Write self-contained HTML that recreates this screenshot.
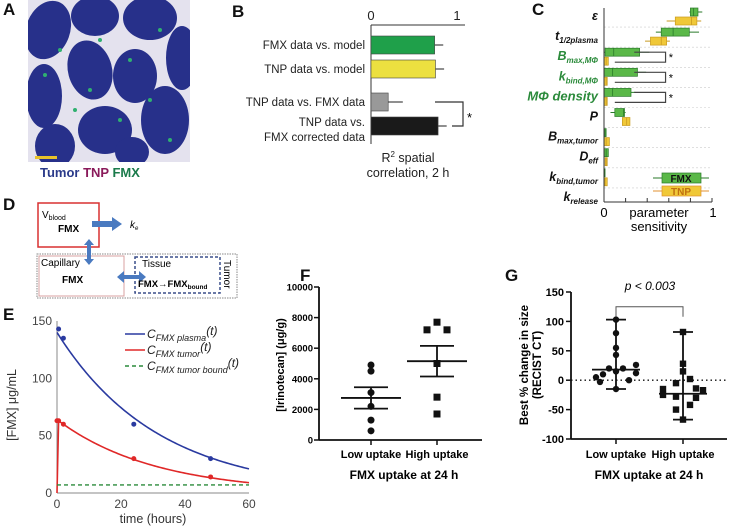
<!DOCTYPE html>
<html><head><meta charset="utf-8">
<style>
html,body{margin:0;padding:0;background:#fff;}
svg{display:block;font-family:"Liberation Sans",Arial,sans-serif;}
</style></head>
<body>
<svg id="fig" width="731" height="530" viewBox="0 0 731 530">
<g font-weight="bold" font-size="17" fill="#111">
<text x="3" y="15">A</text>
<text x="232" y="17">B</text>
<text x="532" y="15">C</text>
<text x="3" y="210">D</text>
<text x="3" y="320">E</text>
<text x="300" y="281">F</text>
<text x="505" y="281">G</text>
</g>

<g>
<clipPath id="clipA"><rect x="28" y="0" width="162" height="162"/></clipPath>
<g clip-path="url(#clipA)">
<rect x="28" y="0" width="162" height="162" fill="#e4e2ee"/>
<g fill="#27308a">
<ellipse cx="48" cy="30" rx="22" ry="30" transform="rotate(20 48 30)"/>
<ellipse cx="95" cy="16" rx="24" ry="20"/>
<ellipse cx="150" cy="18" rx="27" ry="22"/>
<ellipse cx="182" cy="58" rx="16" ry="32"/>
<ellipse cx="90" cy="70" rx="22" ry="30" transform="rotate(-15 90 70)"/>
<ellipse cx="135" cy="76" rx="22" ry="27"/>
<ellipse cx="44" cy="96" rx="18" ry="32"/>
<ellipse cx="165" cy="120" rx="24" ry="34"/>
<ellipse cx="105" cy="130" rx="27" ry="24"/>
<ellipse cx="55" cy="146" rx="20" ry="22"/>
<ellipse cx="132" cy="152" rx="17" ry="15"/>
</g>
<g fill="#2fb070">
<circle cx="60" cy="50" r="2"/><circle cx="100" cy="40" r="2"/><circle cx="130" cy="60" r="2"/><circle cx="150" cy="100" r="2"/><circle cx="75" cy="110" r="2"/><circle cx="120" cy="120" r="2"/><circle cx="170" cy="140" r="2"/><circle cx="90" cy="90" r="2"/><circle cx="45" cy="75" r="2"/><circle cx="160" cy="30" r="2"/>
</g>
<rect x="35" y="156" width="22" height="3" fill="#e8c22a"/>
</g>
<text x="40" y="177" font-size="13" font-weight="bold"><tspan fill="#2a3a8a">Tumor </tspan><tspan fill="#8a1a5a">TNP </tspan><tspan fill="#1a7a4a">FMX</tspan></text>
</g>

<g font-size="10">
<rect x="37" y="254" width="200" height="44" fill="none" stroke="#888" stroke-dasharray="1.5,1"/>
<rect x="39" y="256" width="85" height="40" fill="none" stroke="#d8a0a0"/>
<rect x="135" y="257" width="85" height="36" fill="none" stroke="#3a4e8a" stroke-width="1.5" stroke-dasharray="3,2"/>
<rect x="38" y="203" width="61" height="44" fill="#fff" stroke="#d83030" stroke-width="1.5"/>
<text x="42" y="218">V<tspan font-size="7" dy="2">blood</tspan></text>
<text x="58" y="232" font-weight="bold">FMX</text>
<polygon points="92,221 112,221 112,217 122,224 112,231 112,227 92,227" fill="#4a7ac0"/>
<text x="130" y="228" font-style="italic">k<tspan font-size="6" dy="2">e</tspan></text>
<polygon points="89,239 94,245 91,245 91,259 94,259 89,265 84,259 87,259 87,245 84,245" fill="#4a7ac0"/>
<text x="41" y="266">Capillary</text>
<text x="62" y="283" font-weight="bold">FMX</text>
<polygon points="117,277 124,271 124,275 139,275 139,271 146,277 139,283 139,279 124,279 124,283" fill="#4a7ac0"/>
<text x="142" y="267">Tissue</text>
<text x="138" y="287" font-weight="bold" font-size="9.5">FMX→FMX<tspan font-size="6.5" dy="2">bound</tspan></text>
<text x="0" y="0" transform="translate(224,260) rotate(90)" font-size="10">Tumor</text>
</g>

<g id="panelB"></g>
<g id="panelC"></g>
<g id="panelE"></g>
<g id="panelF"></g>
<g id="panelG"></g>
</svg>
<script>
const NS='http://www.w3.org/2000/svg';
function mk(parent,tag,attrs,text){const e=document.createElementNS(NS,tag);for(const k in attrs)e.setAttribute(k,attrs[k]);if(text!==undefined)e.textContent=text;parent.appendChild(e);return e;}

// ---------- Panel B data ----------
const bCategories=['FMX data vs. model','TNP data vs. model','TNP data vs. FMX data','TNP data vs. FMX corrected data'];
const bValues=[0.74,0.75,0.20,0.78];
const bErrors=[0.10,0.10,0.17,0.10];
const bColors=['#1fa04a','#ece040','#999999','#1a1a1a'];
const bTicks=[0,1];

// ---------- Panel C data ----------
const cParams=['ε','t1/2plasma','Bmax,MΦ','kbind,MΦ','MΦ density','P','Bmax,tumor','Deff','kbind,tumor','krelease'];
const cFmxQ1=[0.80,0.53,0.01,0.00,0.00,0.10,0.00,0.00,0.00,0];
const cFmxMed=[0.83,0.64,0.09,0.08,0.08,0.18,0.01,0.02,0.005,0];
const cFmxQ3=[0.87,0.79,0.33,0.31,0.25,0.19,0.02,0.04,0.01,0];
const cFmxLo=[0.79,0.48,0.00,0.00,0.00,0.06,0.00,0.00,0.00,0];
const cFmxHi=[0.91,0.88,0.42,0.39,0.29,0.20,0.02,0.04,0.01,0];
const cTnpQ1=[0.66,0.43,0.00,0.00,0.00,0.17,0.00,0.01,0.00,0];
const cTnpMed=[0.81,0.53,0.02,0.02,0.02,0.21,0.02,0.02,0.01,0];
const cTnpQ3=[0.86,0.58,0.04,0.03,0.03,0.24,0.05,0.03,0.03,0];
const cTnpLo=[0.58,0.38,0.00,0.00,0.00,0.17,0.00,0.01,0.00,0];
const cTnpHi=[0.90,0.61,0.04,0.03,0.03,0.24,0.05,0.03,0.03,0];

// ---------- Panel E data ----------
const eTimes=[0.5,2,24,48];
const ePlasma=[143,135,60,30];
const eTumorTimes=[0,0.5,2,24,48];
const eTumor=[63,63,60,30,14];
const eBound=7;
const ePlasmaModel=[140,0.0316];
const eTumorModel=[64,0.0327];
const eXTicks=[0,20,40,60];
const eYTicks=[0,50,100,150];

// ---------- Panel F data ----------
const fCategories=['Low uptake','High uptake'];
const fLow=[4900,4500,3100,2200,1300,600];
const fHigh=[7700,7200,7200,5000,2800,1700];
const fMean=[2750,5150];
const fSem=[700,1000];
const fYTicks=[0,2000,4000,6000,8000,10000];

// ---------- Panel G data ----------
const gCategories=['Low uptake','High uptake'];
const gLow=[103,80,55,43,26,20,20,15,12,10,5,-3,-15,0];
const gHigh=[82,28,15,2,-5,-15,-17,-25,-28,-30,-42,-50,-67,-14];
const gMedian=[18,-23];
const gMin=[-15,-67];
const gMax=[103,82];
const gYTicks=[-100,-50,0,50,100,150];

// ===== Panel B =====
(function(){
const g=document.getElementById('panelB');
const x=v=>371+v*86;
const rowY=[36,60,93,117];const h=18;
let ax=mk(g,'line',{x1:371,y1:25,x2:465,y2:25,stroke:'#333','stroke-width':1});

let ay=mk(g,'line',{x1:371,y1:25,x2:371,y2:144,stroke:'#333','stroke-width':1});

bTicks.forEach(t=>{let tt=mk(g,'text',{x:x(t),y:20,'font-size':13,'text-anchor':'middle',fill:'#222'},String(t));
});
bValues.forEach((v,i)=>{
let r=mk(g,'rect',{x:371,y:rowY[i],width:x(v)-371,height:h,fill:bColors[i],stroke:'#444','stroke-width':0.6});

let e=mk(g,'line',{x1:x(v),x2:x(v+bErrors[i]),y1:rowY[i]+h/2,y2:rowY[i]+h/2,stroke:'#444','stroke-width':1.2});

});
const lab=[[45,bCategories[0]],[69,bCategories[1]],[102,bCategories[2]],[122,'TNP data vs.'],[137,'FMX corrected data']];
lab.forEach(l=>{let t=mk(g,'text',{x:365,y:l[0]+4,'font-size':11.5,'text-anchor':'end',fill:'#222'},l[1]);
});
let br=mk(g,'path',{d:'M435,102 H463 V126 H452',fill:'none',stroke:'#333','stroke-width':1.2});

let st=mk(g,'text',{x:467,y:122,'font-size':13},'*');

let t1=mk(g,'text',{x:408,y:162,'font-size':12.5,'text-anchor':'middle',fill:'#222'});
t1.innerHTML='R<tspan font-size="8" dy="-5">2</tspan><tspan dy="5"> spatial</tspan>';

let t2=mk(g,'text',{x:408,y:177,'font-size':12.5,'text-anchor':'middle',fill:'#222'},'correlation, 2 h');

})();

// ===== Panel C =====
(function(){
const g=document.getElementById('panelC');
const x=v=>604+v*108;
const gy=i=>12+i*20.1;
const labels=[
 ['<tspan font-style="italic">ε</tspan>','#111'],
 ['<tspan font-style="italic">t</tspan><tspan font-size="8" font-style="italic" dy="3">1/2plasma</tspan>','#111'],
 ['<tspan font-style="italic">B</tspan><tspan font-size="8" font-style="italic" dy="3">max,MΦ</tspan>','#2a8a3a'],
 ['<tspan font-style="italic">k</tspan><tspan font-size="8" font-style="italic" dy="3">bind,MΦ</tspan>','#2a8a3a'],
 ['<tspan font-style="italic">MΦ density</tspan>','#2a8a3a'],
 ['<tspan font-style="italic">P</tspan>','#111'],
 ['<tspan font-style="italic">B</tspan><tspan font-size="8" font-style="italic" dy="3">max,tumor</tspan>','#111'],
 ['<tspan font-style="italic">D</tspan><tspan font-size="8" font-style="italic" dy="3">eff</tspan>','#111'],
 ['<tspan font-style="italic">k</tspan><tspan font-size="8" font-style="italic" dy="3">bind,tumor</tspan>','#111'],
 ['<tspan font-style="italic">k</tspan><tspan font-size="8" font-style="italic" dy="3">release</tspan>','#111']];
cParams.forEach((p,i)=>{
 if(i>0){let gl=mk(g,'line',{x1:604,x2:712,y1:gy(i)-5,y2:gy(i)-5,stroke:'#ccc','stroke-dasharray':'2,2','stroke-width':0.6});
 }
 let t=mk(g,'text',{x:598,y:gy(i)+8,'font-size':i==4?13:12.5,'font-weight':'bold','text-anchor':'end',fill:labels[i][1]});
 t.innerHTML=labels[i][0];
 
});
function box(i,q1,med,q3,lo,hi,yc,fill,stroke,name){
 if(q3<=0&&hi<=0)return;
 let w=mk(g,'line',{x1:x(lo),x2:x(hi),y1:yc,y2:yc,stroke:stroke,'stroke-width':1});
 
 let b=mk(g,'rect',{x:x(q1),y:yc-4,width:Math.max(1,x(q3)-x(q1)),height:8,fill:fill,stroke:stroke,'stroke-width':0.7});
 
 let m=mk(g,'line',{x1:x(med),x2:x(med),y1:yc-4,y2:yc+4,stroke:stroke,'stroke-width':0.8});
 
}
cParams.forEach((p,i)=>{
 box(i,cFmxQ1[i],cFmxMed[i],cFmxQ3[i],cFmxLo[i],cFmxHi[i],gy(i),'#5ab848','#2a7a2a','c-fmx');
 box(i,cTnpQ1[i],cTnpMed[i],cTnpQ3[i],cTnpLo[i],cTnpHi[i],gy(i)+9,'#f0c838','#c89a20','c-tnp');
});
[2,3,4].forEach(i=>{
 let b=mk(g,'path',{d:`M${x(0.28)},${gy(i)} H${x(0.57)} V${gy(i)+10} H${x(0.1)}`,fill:'none',stroke:'#444','stroke-width':1.2});
 
 let s=mk(g,'text',{x:x(0.6),y:gy(i)+9,'font-size':11},'*');
 
});
let ay=mk(g,'line',{x1:604,x2:604,y1:8,y2:202,stroke:'#333'});

let ax=mk(g,'line',{x1:604,x2:712,y1:202,y2:202,stroke:'#333'});

[0,0.2,0.4,0.6,0.8,1].forEach(t=>{let tk=mk(g,'line',{x1:x(t),x2:x(t),y1:198,y2:202,stroke:'#333'});
});
let t0=mk(g,'text',{x:x(0),y:217,'font-size':13,'text-anchor':'middle'},'0');

let t1=mk(g,'text',{x:x(1)+1,y:217,'font-size':13,'text-anchor':'middle'},'1');

let a1=mk(g,'text',{x:659,y:217,'font-size':13,'text-anchor':'middle'},'parameter');

let a2=mk(g,'text',{x:659,y:231,'font-size':13,'text-anchor':'middle'},'sensitivity');

[['FMX','#5ab848','#2a7a2a',178,'#111'],['TNP','#f0c838','#e09030',191,'#c07010']].forEach(l=>{
 let w=mk(g,'line',{x1:653,x2:709,y1:l[3],y2:l[3],stroke:l[2]});
 
 let r=mk(g,'rect',{x:662,y:l[3]-5,width:39,height:10,fill:l[1],stroke:l[2],'stroke-width':0.7});
 
 let t=mk(g,'text',{x:681,y:l[3]+4,'font-size':10,'font-weight':'bold','text-anchor':'middle',fill:l[4]},l[0]);
 
});
})();

// ===== Panel E =====
(function(){
const g=document.getElementById('panelE');
const x=t=>57+t*(192/60);
const y=v=>493-v*(172/150);
let ay=mk(g,'line',{x1:57,x2:57,y1:321,y2:493,stroke:'#888'});

let ax=mk(g,'line',{x1:57,x2:249,y1:493,y2:493,stroke:'#888'});

eXTicks.forEach(t=>{let tl=mk(g,'text',{x:x(t),y:508,'font-size':12,'text-anchor':'middle',fill:'#444'},String(t));
});
eYTicks.forEach(t=>{let tl=mk(g,'text',{x:52,y:y(t)+4,'font-size':12,'text-anchor':'end',fill:'#444'},String(t));
});
let p='';for(let t=0;t<=60;t+=0.5){p+=(t?'L':'M')+x(t)+','+y(ePlasmaModel[0]*Math.exp(-ePlasmaModel[1]*t));}
let pl=mk(g,'path',{d:p,fill:'none',stroke:'#2a3aa0','stroke-width':1.6});

let q='M'+x(0)+','+y(0)+' L'+x(0.5)+','+y(eTumorModel[0]*0.99);
for(let t=1;t<=60;t+=0.5){q+='L'+x(t)+','+y(eTumorModel[0]*Math.exp(-eTumorModel[1]*(t)));}
let tl=mk(g,'path',{d:q,fill:'none',stroke:'#e02828','stroke-width':1.6});

let bl=mk(g,'line',{x1:x(0),x2:x(60),y1:y(eBound),y2:y(eBound),stroke:'#2a8a3a','stroke-width':1.4,'stroke-dasharray':'4,3'});

eTimes.forEach((t,i)=>{let c=mk(g,'circle',{cx:x(t),cy:y(ePlasma[i]),r:2.5,fill:'#2a3aa0'});
});
eTumorTimes.forEach((t,i)=>{let c=mk(g,'circle',{cx:x(t),cy:y(eTumor[i]),r:2.5,fill:'#e02828'});
});
[['#2a3aa0','','FMX plasma',334],['#e02828','','FMX tumor',350],['#2a8a3a','4,3','FMX tumor bound',366]].forEach(l=>{
 let ln=mk(g,'line',{x1:125,x2:145,y1:l[3],y2:l[3],stroke:l[0],'stroke-width':1.6,'stroke-dasharray':l[1]||'none'});
 
 let t=mk(g,'text',{x:147,y:l[3]+4,'font-size':12,'font-style':'italic',fill:'#222'});
 t.innerHTML='C<tspan font-size="9" dy="3">'+l[2]+'</tspan><tspan dy="-6">(t)</tspan>';
 
});
let yt=mk(g,'text',{x:0,y:0,'font-size':12.5,'text-anchor':'middle',fill:'#333',transform:'translate(16,405) rotate(-90)'},'[FMX] μg/mL');

let xt=mk(g,'text',{x:153,y:523,'font-size':12.5,'text-anchor':'middle',fill:'#333'},'time (hours)');

})();

// ===== Panel F =====
(function(){
const g=document.getElementById('panelF');
const cx=[371,437];
const y=v=>440-v*(153/10000);
let ay=mk(g,'line',{x1:319,x2:319,y1:287,y2:440,stroke:'#111','stroke-width':1.8});

let ax=mk(g,'line',{x1:319,x2:482,y1:440,y2:440,stroke:'#111','stroke-width':1.8});

fYTicks.forEach(t=>{let tk=mk(g,'line',{x1:314,x2:319,y1:y(t),y2:y(t),stroke:'#111','stroke-width':1.5});

let tl=mk(g,'text',{x:313,y:y(t)+3.5,'font-size':9.5,'font-weight':'bold','text-anchor':'end'},String(t));
});
fCategories.forEach((c,i)=>{let tk=mk(g,'line',{x1:cx[i],x2:cx[i],y1:440,y2:445,stroke:'#111','stroke-width':1.5});

let tl=mk(g,'text',{x:cx[i],y:458,'font-size':11,'font-weight':'bold','text-anchor':'middle'},c);
});
const offL=[0,0,0,0,0,0];const offH=[0,-10,10,0,0,0];
fLow.forEach((v,i)=>{let c=mk(g,'circle',{cx:cx[0]+offL[i],cy:y(v),r:3.5,fill:'#111'});
});
fHigh.forEach((v,i)=>{let r=mk(g,'rect',{x:cx[1]+offH[i]-3.5,y:y(v)-3.5,width:7,height:7,fill:'#111'});
});
fMean.forEach((m,i)=>{
 let ml=mk(g,'line',{x1:cx[i]-30,x2:cx[i]+30,y1:y(m),y2:y(m),stroke:'#111','stroke-width':1.8});
 
 let e=mk(g,'path',{d:`M${cx[i]-17},${y(m+fSem[i])} H${cx[i]+17} M${cx[i]},${y(m+fSem[i])} V${y(m-fSem[i])} M${cx[i]-17},${y(m-fSem[i])} H${cx[i]+17}`,fill:'none',stroke:'#111','stroke-width':1.8});
 
});
let yt=mk(g,'text',{x:0,y:0,'font-size':11,'font-weight':'bold','text-anchor':'middle',transform:'translate(284,365) rotate(-90)'},'[Irinotecan] (μg/g)');

let xt=mk(g,'text',{x:404,y:479,'font-size':12,'font-weight':'bold','text-anchor':'middle'},'FMX uptake at 24 h');

})();

// ===== Panel G =====
(function(){
const g=document.getElementById('panelG');
const cx=[616,683];
const y=v=>439-(v+100)*(147/250);
let ay=mk(g,'line',{x1:571,x2:571,y1:292,y2:439,stroke:'#111','stroke-width':1.8});

let ax=mk(g,'line',{x1:571,x2:727,y1:439,y2:439,stroke:'#111','stroke-width':1.8});

let zl=mk(g,'line',{x1:571,x2:727,y1:y(0),y2:y(0),stroke:'#111','stroke-width':1.4,'stroke-dasharray':'1.5,3'});

gYTicks.forEach(t=>{let tk=mk(g,'line',{x1:566,x2:571,y1:y(t),y2:y(t),stroke:'#111','stroke-width':1.5});

let tl=mk(g,'text',{x:564,y:y(t)+4,'font-size':11,'font-weight':'bold','text-anchor':'end'},String(t));
});
gCategories.forEach((c,i)=>{let tk=mk(g,'line',{x1:cx[i],x2:cx[i],y1:439,y2:444,stroke:'#111','stroke-width':1.5});

let tl=mk(g,'text',{x:cx[i],y:458,'font-size':11,'font-weight':'bold','text-anchor':'middle'},c);
});
gMedian.forEach((m,i)=>{
 let r=mk(g,'path',{d:`M${cx[i]-10},${y(gMax[i])} H${cx[i]+10} M${cx[i]},${y(gMax[i])} V${y(gMin[i])} M${cx[i]-10},${y(gMin[i])} H${cx[i]+10} M${cx[i]-24},${y(m)} H${cx[i]+24}`,fill:'none',stroke:'#111','stroke-width':1.8});
 
});
const offL=[0,0,0,0,20,-7,7,0,20,-13,-20,-16,0,13];
const offH=[0,0,0,7,-7,-20,20,-20,-7,13,7,-7,0,13];
gLow.forEach((v,i)=>{let c=mk(g,'circle',{cx:cx[0]+offL[i],cy:y(v),r:3.2,fill:'#111'});
});
gHigh.forEach((v,i)=>{let r=mk(g,'rect',{x:cx[1]+offH[i]-3.2,y:y(v)-3.2,width:6.4,height:6.4,fill:'#111'});
});
let br=mk(g,'path',{d:`M${cx[0]},${y(108)} V${y(125)} H${cx[1]} V${y(108)}`,fill:'none',stroke:'#555','stroke-width':1});

let pt=mk(g,'text',{x:650,y:290,'font-size':12,'font-style':'italic','text-anchor':'middle'},'p < 0.003');

let y1=mk(g,'text',{x:0,y:0,'font-size':11.5,'font-weight':'bold','text-anchor':'middle',transform:'translate(528,365) rotate(-90)'},'Best % change in size');

let y2=mk(g,'text',{x:0,y:0,'font-size':11.5,'font-weight':'bold','text-anchor':'middle',transform:'translate(541,365) rotate(-90)'},'(RECIST CT)');

let xt=mk(g,'text',{x:649,y:479,'font-size':12,'font-weight':'bold','text-anchor':'middle'},'FMX uptake at 24 h');

})();
</script>
</body></html>
